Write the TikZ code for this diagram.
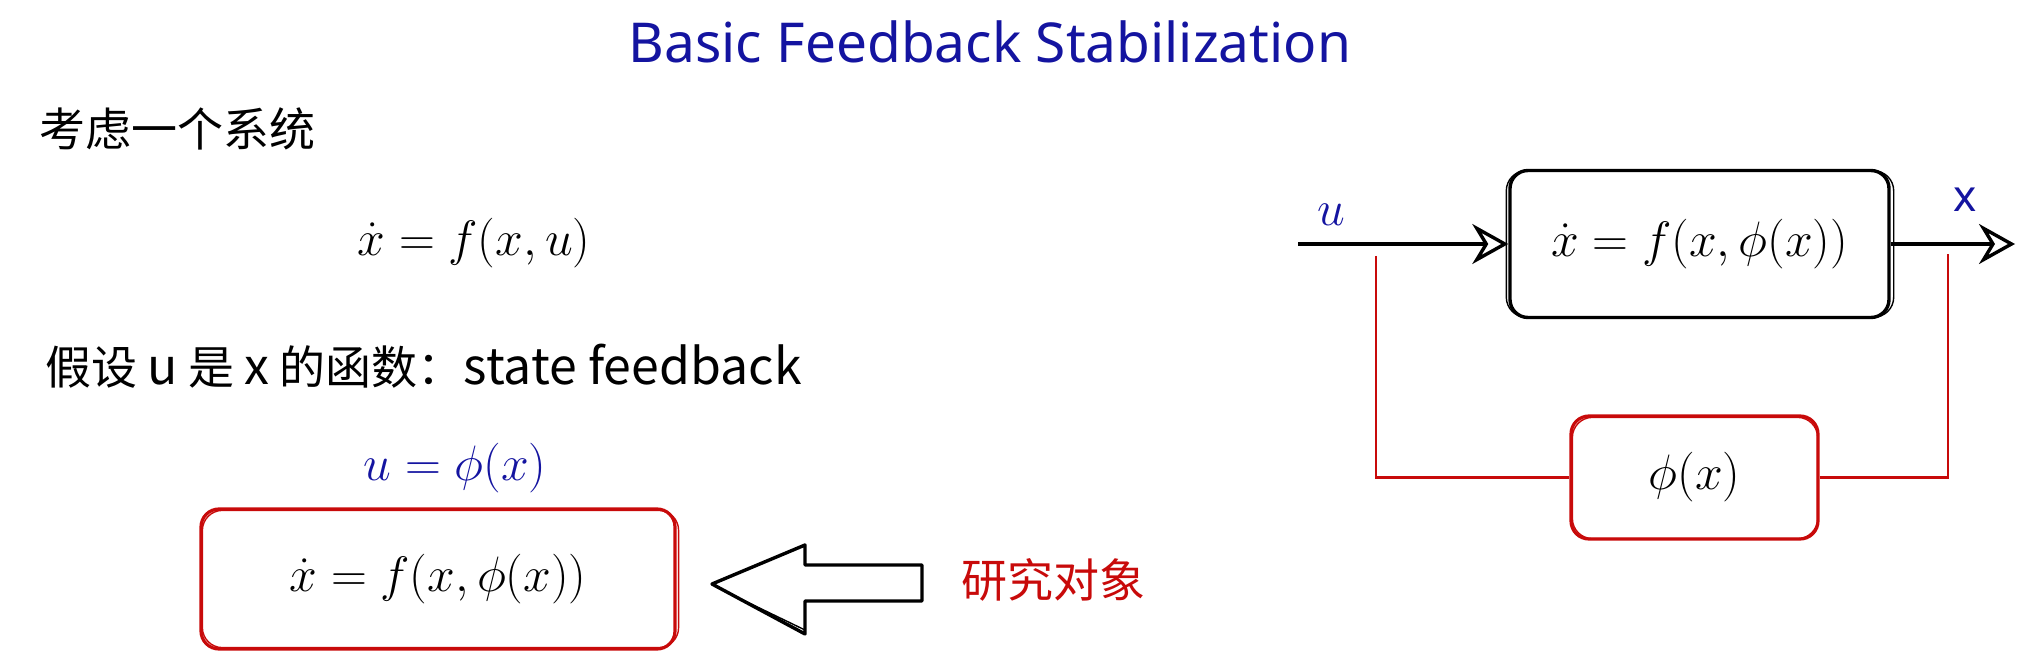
\documentclass[tikz,border=0pt]{standalone}
\usepackage{fontspec}
\setmainfont{Noto Sans}
\newfontfamily\cjk{Noto Sans CJK SC}
\usetikzlibrary{arrows.meta}
\definecolor{exred}{RGB}{200,10,10}
\definecolor{exblue}{RGB}{20,20,160}
\newcommand{\lat}[1]{{\fontsize{25}{28}\selectfont #1}}
\begin{document}
\begin{tikzpicture}[x=0.5pt,y=-0.5pt,
  mathtxt/.style={font=\fontsize{25}{29}\selectfont, inner sep=0pt},
  cjktxt/.style={font=\cjk\fontsize{23}{27}\selectfont, inner sep=0pt},
  titletxt/.style={font=\fontsize{27.5}{32}\selectfont, text=exblue, inner sep=0pt},
  redbox/.style={draw=exred, rounded corners=9pt, line width=1.6pt, inner sep=0pt, font=\fontsize{25}{29}\selectfont},
  blackbox/.style={draw=black, rounded corners=9pt, line width=1.7pt, inner sep=0pt, font=\fontsize{25}{29}\selectfont},
  ghost/.style={line width=0.7pt, rounded corners=10pt},
  conn/.style={line width=1.7pt, -{Stealth[open, length=18pt, width=20pt, inset=6pt, line width=1.7pt]}},
  redline/.style={draw=exred, line width=1.4pt}]
\useasboundingbox (0,0) rectangle (2036,668);
% title
\node[titletxt] (title) at (990,42) {Basic Feedback Stabilization};
% left part
\node[cjktxt, anchor=west] (consider) at (39,129) {考虑一个系统};
\node[mathtxt] (eq1) at (474,243) {$\dot{x} = f(x,u)$};
\node[cjktxt, anchor=west] (assume) at (45,366) {假设 \lat{u} 是 \lat{x} 的函数：\lat{state feedback}};
\node[mathtxt, text=exblue] (ueq) at (455,468) {$u=\phi(x)$};
\node[redbox, minimum width=237pt, minimum height=70pt] (sysL) at (438,579) {$\dot{x} = f(x,\phi(x))$};
\draw[ghost, exred] ([shift={(3,-3)}]sysL.south west) rectangle ([shift={(2,3)}]sysL.north east);
\node[cjktxt, text=exred, anchor=west] (study) at (961,580) {研究对象};
\draw[line width=1.7pt, line join=round] (712,584) -- (805,545) -- (805,565) -- (922,565) -- (922,601) -- (805,601) -- (805,634) -- cycle;
\draw[line width=0.7pt] (716,587) -- (805,630);
% right part
\node[blackbox, minimum width=189.5pt, minimum height=73.5pt] (sysR) at (1699.5,244) {$\dot{x} = f(x,\phi(x))$};
\draw[ghost] ([shift={(-2,-2)}]sysR.south west) rectangle ([shift={(3,2)}]sysR.north east);
\coordinate (uin) at (1298,244);
\coordinate (xout) at (2015,244);
\draw[conn] (uin) -- (sysR.west);
\draw[conn] (sysR.east) -- (xout);
\node[mathtxt, text=exblue] (ulab) at (1331,215) {$u$};
\node[font=\fontsize{22}{26}\selectfont, text=exblue, inner sep=0pt] (xlab) at (1965,200) {x};
\node[redbox, minimum width=123.5pt, minimum height=61.5pt] (phi) at (1694.5,477.5) {$\phi(x)$};
\draw[ghost, exred] ([shift={(3,-2)}]phi.south west) rectangle ([shift={(-2,3)}]phi.north east);
\coordinate (fbL) at (1376,256);
\coordinate (fbR) at (1948,254);
\draw[redline] (fbL) |- (phi.west);
\draw[redline] (phi.east) -| (fbR);
\end{tikzpicture}
\end{document}
